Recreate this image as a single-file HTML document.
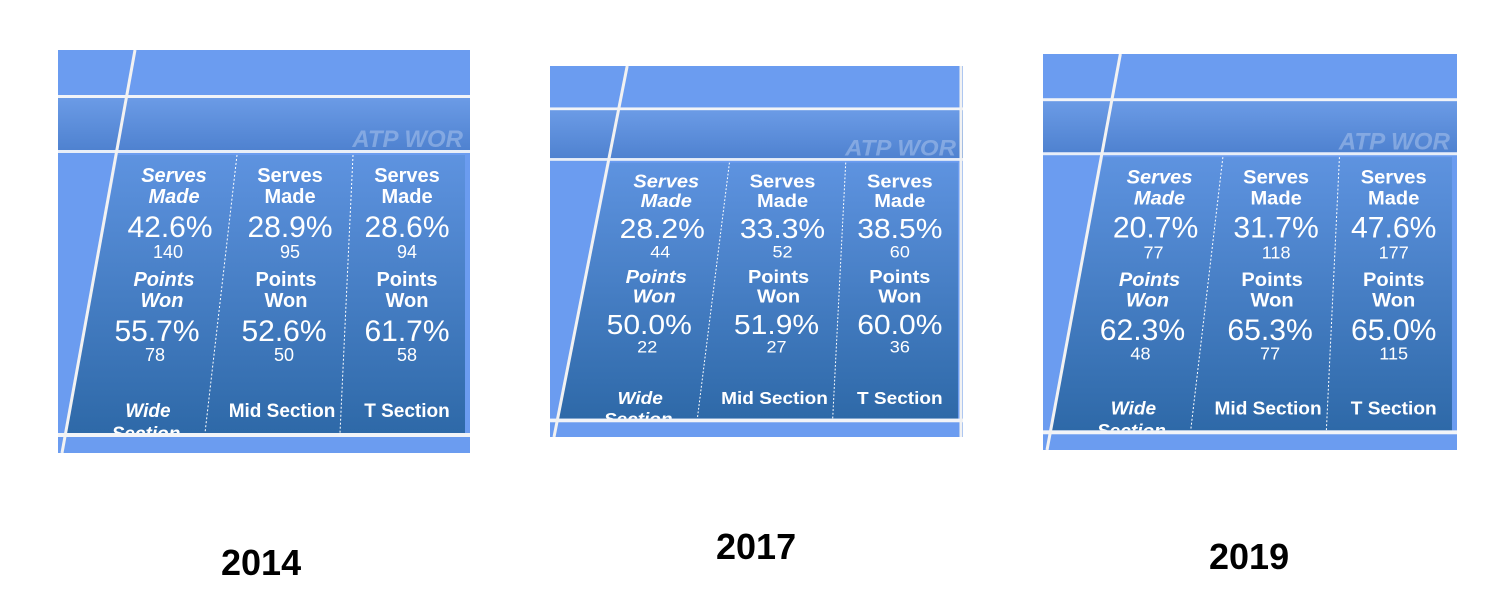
<!DOCTYPE html>
<html><head><meta charset="utf-8"><style>
html,body{margin:0;padding:0;background:#fff;width:1500px;height:604px;overflow:hidden;position:relative}
svg.p{position:absolute}
.yr{position:absolute;font:bold 36px "Liberation Sans",sans-serif;color:#000}
</style></head><body>
<svg width="0" height="0" style="position:absolute">
<defs>
<linearGradient id="g" x1="0" y1="0" x2="0" y2="1"><stop offset="0" stop-color="#5e93e0"/><stop offset="1" stop-color="#2e69a8"/></linearGradient>
<linearGradient id="b" x1="0" y1="0" x2="0" y2="1"><stop offset="0" stop-color="#6b9be6"/><stop offset="1" stop-color="#4f82d0"/></linearGradient>
<clipPath id="cp"><rect x="0" y="105" width="412" height="278"/></clipPath>
<g id="base">
<rect x="0" y="0" width="412" height="403" fill="#6b9cf0"/>
<rect x="0" y="48" width="412" height="52" fill="url(#b)"/>
<text x="405" y="97" text-anchor="end" font-family="Liberation Sans" font-weight="bold" font-style="italic" font-size="24" fill="#a9c3ec" opacity="0.55">ATP WOR</text>
<polygon points="60,105 407,105 407,383 8,383" fill="url(#g)"/>
<rect x="0" y="45" width="412" height="3" fill="#f2f4f8"/>
<rect x="0" y="100" width="412" height="3" fill="#e8eef8"/>
<rect x="0" y="383" width="412" height="4" fill="#f2f4f8"/>
<line x1="77" y1="0" x2="4" y2="403" stroke="#f2f2f2" stroke-width="3"/>
<line x1="179" y1="105" x2="147" y2="383" stroke="#fff" stroke-width="1" stroke-dasharray="2,2"/>
<line x1="295" y1="105" x2="282" y2="383" stroke="#fff" stroke-width="1" stroke-dasharray="2,2"/>
</g>
</defs></svg>

<svg class="p" style="left:58px;top:50px" width="412" height="403" viewBox="0 0 412 403" preserveAspectRatio="none">
<use href="#base"/>
<g fill="#fff" font-family="Liberation Sans" text-anchor="middle">
<g font-weight="bold" font-style="italic" font-size="20"><text x="116" y="132">Serves</text><text x="116" y="153">Made</text><text x="106" y="236">Points</text><text x="104" y="257">Won</text></g>
<g font-weight="bold" font-size="20"><text x="232" y="132">Serves</text><text x="232" y="153">Made</text><text x="349" y="132">Serves</text><text x="349" y="153">Made</text><text x="228" y="236">Points</text><text x="228" y="257">Won</text><text x="349" y="236">Points</text><text x="349" y="257">Won</text></g>
<g font-size="30"><text x="112" y="187">42.6%</text><text x="232" y="187">28.9%</text><text x="349" y="187">28.6%</text><text x="99" y="291">55.7%</text><text x="226" y="291">52.6%</text><text x="349" y="291">61.7%</text></g>
<g font-size="18"><text x="110" y="208">140</text><text x="232" y="208">95</text><text x="349" y="208">94</text><text x="97" y="311">78</text><text x="226" y="311">50</text><text x="349" y="311">58</text></g>
<g font-weight="bold" font-size="19"><text x="90" y="367" font-style="italic">Wide</text><text x="224" y="367">Mid Section</text><text x="349" y="367">T Section</text></g>
<g clip-path="url(#cp)" font-weight="bold" font-style="italic" font-size="19"><text x="88" y="390">Section</text></g>
</g></svg>

<svg class="p" style="left:550px;top:66px" width="413" height="371" viewBox="0 0 412 403" preserveAspectRatio="none">
<use href="#base"/>
<g fill="#fff" font-family="Liberation Sans" text-anchor="middle">
<g font-weight="bold" font-style="italic" font-size="20"><text x="116" y="132">Serves</text><text x="116" y="153">Made</text><text x="106" y="236">Points</text><text x="104" y="257">Won</text></g>
<g font-weight="bold" font-size="20"><text x="232" y="132">Serves</text><text x="232" y="153">Made</text><text x="349" y="132">Serves</text><text x="349" y="153">Made</text><text x="228" y="236">Points</text><text x="228" y="257">Won</text><text x="349" y="236">Points</text><text x="349" y="257">Won</text></g>
<g font-size="30"><text x="112" y="187">28.2%</text><text x="232" y="187">33.3%</text><text x="349" y="187">38.5%</text><text x="99" y="291">50.0%</text><text x="226" y="291">51.9%</text><text x="349" y="291">60.0%</text></g>
<g font-size="18"><text x="110" y="208">44</text><text x="232" y="208">52</text><text x="349" y="208">60</text><text x="97" y="311">22</text><text x="226" y="311">27</text><text x="349" y="311">36</text></g>
<g font-weight="bold" font-size="19"><text x="90" y="367" font-style="italic">Wide</text><text x="224" y="367">Mid Section</text><text x="349" y="367">T Section</text></g>
<g clip-path="url(#cp)" font-weight="bold" font-style="italic" font-size="19"><text x="88" y="390">Section</text></g>
</g>
<line x1="410" y1="0" x2="410" y2="403" stroke="#f2f2f2" stroke-width="3"/>
</svg>

<svg class="p" style="left:1043px;top:54px" width="414" height="396" viewBox="0 0 412 403" preserveAspectRatio="none">
<use href="#base"/>
<g fill="#fff" font-family="Liberation Sans" text-anchor="middle">
<g font-weight="bold" font-style="italic" font-size="20"><text x="116" y="132">Serves</text><text x="116" y="153">Made</text><text x="106" y="236">Points</text><text x="104" y="257">Won</text></g>
<g font-weight="bold" font-size="20"><text x="232" y="132">Serves</text><text x="232" y="153">Made</text><text x="349" y="132">Serves</text><text x="349" y="153">Made</text><text x="228" y="236">Points</text><text x="228" y="257">Won</text><text x="349" y="236">Points</text><text x="349" y="257">Won</text></g>
<g font-size="30"><text x="112" y="187">20.7%</text><text x="232" y="187">31.7%</text><text x="349" y="187">47.6%</text><text x="99" y="291">62.3%</text><text x="226" y="291">65.3%</text><text x="349" y="291">65.0%</text></g>
<g font-size="18"><text x="110" y="208">77</text><text x="232" y="208">118</text><text x="349" y="208">177</text><text x="97" y="311">48</text><text x="226" y="311">77</text><text x="349" y="311">115</text></g>
<g font-weight="bold" font-size="19"><text x="90" y="367" font-style="italic">Wide</text><text x="224" y="367">Mid Section</text><text x="349" y="367">T Section</text></g>
<g clip-path="url(#cp)" font-weight="bold" font-style="italic" font-size="19"><text x="88" y="390">Section</text></g>
</g></svg>

<div class="yr" style="left:221px;top:542px">2014</div>
<div class="yr" style="left:716px;top:526px">2017</div>
<div class="yr" style="left:1209px;top:536px">2019</div>
</body></html>
